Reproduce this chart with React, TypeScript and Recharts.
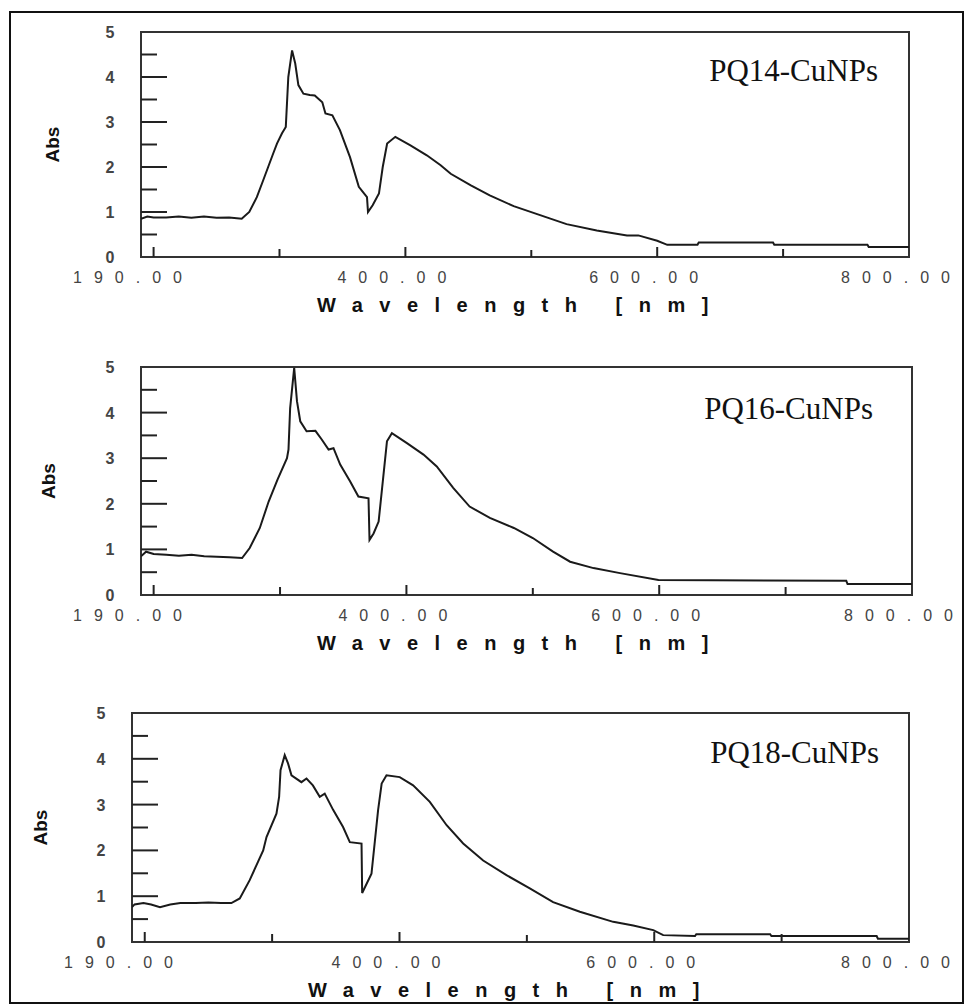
import { Line, LineChart, ReferenceArea, XAxis, YAxis } from 'recharts';

// PQ14-CuNPs spectrum
const pq14Wavelength = [
  190, 195, 200, 210, 220, 230, 240, 250, 260, 270, 276, 282, 287, 291, 295, 298, 302, 305, 307, 310,
  312.5, 315, 319, 324, 328, 334, 336.5, 342, 348, 356, 363, 369.5, 370.3, 374, 379, 382, 385.5, 392, 404, 417,
  428, 436, 452, 467, 486, 507, 528, 552, 576, 585, 600, 608, 632, 633, 692, 693, 767, 768, 800,
];
const pq14Abs = [
  0.85, 0.9, 0.88, 0.88, 0.9, 0.87, 0.9, 0.87, 0.88, 0.85, 1.0, 1.33, 1.7, 2.0, 2.3, 2.52, 2.75, 2.89, 4.0, 4.59,
  4.3, 3.82, 3.63, 3.6, 3.59, 3.44, 3.19, 3.15, 2.82, 2.22, 1.56, 1.33, 1.0, 1.15, 1.41, 2.0, 2.52, 2.67, 2.48, 2.26,
  2.04, 1.85, 1.59, 1.37, 1.13, 0.93, 0.73, 0.59, 0.48, 0.48, 0.36, 0.27, 0.27, 0.32, 0.32, 0.27, 0.27, 0.22, 0.22,
];

// PQ16-CuNPs spectrum
const pq16Wavelength = [
  190, 194, 200, 210, 220, 230, 240, 250, 260, 270, 276, 284, 291, 298, 305.5, 306.7, 308, 311.2, 313.4, 316,
  321, 328, 333, 338.4, 342.3, 347.6, 355.5, 362, 370, 370.8, 374, 378, 384.6, 388.5, 400.4, 413.5, 424, 437, 450, 466,
  485, 500, 516, 529.5, 548, 569, 599.4, 748, 749, 800,
];
const pq16Abs = [
  0.85, 0.95, 0.9, 0.88, 0.86, 0.88, 0.85, 0.84, 0.83, 0.81, 1.03, 1.47, 2.05, 2.53, 3.0, 3.19, 4.1, 4.98, 4.25, 3.81,
  3.59, 3.6, 3.41, 3.19, 3.22, 2.86, 2.49, 2.16, 2.12, 1.21, 1.35, 1.61, 3.37, 3.55, 3.33, 3.08, 2.82, 2.35, 1.94, 1.69,
  1.47, 1.25, 0.95, 0.73, 0.59, 0.48, 0.33, 0.31, 0.24, 0.24,
];

// PQ18-CuNPs spectrum
const pq18Wavelength = [
  190, 192, 199, 205, 212, 220, 228, 240, 250, 260, 268, 274.6, 282.4, 293, 295.6, 303.4, 305.5, 306.6, 309.9, 312.5,
  315.2, 323, 327, 332, 337.4, 341.3, 348, 355.7, 361, 370.2, 370.7, 378, 383.2, 386, 389.8, 400.2, 410.7, 423.8, 437, 450,
  465.7, 484, 502.3, 520.6, 541.6, 567.8, 583.5, 599.2, 607, 632, 633, 691, 692, 774.6, 775.6, 800,
];
const pq18Abs = [
  0.76, 0.82, 0.85, 0.82, 0.76, 0.82, 0.85, 0.85, 0.86, 0.85, 0.85, 0.95, 1.35, 2.0, 2.29, 2.8, 3.17, 3.75, 4.08, 3.9,
  3.64, 3.49, 3.57, 3.42, 3.17, 3.24, 2.88, 2.51, 2.18, 2.15, 1.07, 1.49, 2.88, 3.46, 3.64, 3.6, 3.42, 3.06, 2.55, 2.15,
  1.78, 1.46, 1.17, 0.87, 0.66, 0.44, 0.36, 0.26, 0.15, 0.13, 0.17, 0.17, 0.13, 0.13, 0.07, 0.07,
];

const xTicks = [190, 200, 300, 400, 500, 600, 700, 800];
const xLabelTicks = [190, 400, 600, 800];
const yTicks = [0, 0.5, 1, 1.5, 2, 2.5, 3, 3.5, 4, 4.5, 5];

const xMarkLength: Record<number, number> = { 200: 10, 300: 8, 400: 10, 500: 7, 600: 10, 700: 8 };

const toRows = (w: number[], a: number[]) => w.map((x, i) => ({ w: x, a: a[i] }));

const panels = [
  { name: 'PQ14-CuNPs', rows: toRows(pq14Wavelength, pq14Abs), top: 32, bottom: 257, left: 141, right: 909, noteX: 878, noteY: 49, absDx: 89 },
  { name: 'PQ16-CuNPs', rows: toRows(pq16Wavelength, pq16Abs), top: 367, bottom: 595, left: 141, right: 912, noteX: 873, noteY: 52, absDx: 93 },
  { name: 'PQ18-CuNPs', rows: toRows(pq18Wavelength, pq18Abs), top: 713, bottom: 942, left: 132, right: 909, noteX: 879, noteY: 50, absDx: 92 },
];

const PAGE_W = 967;
const TOP_PAD = 25;
const BOTTOM_PAD = 62;
const Y_AXIS_W = 60;
const X_AXIS_H = 30;
const SANS = "Arial, 'Liberation Sans', sans-serif";

function XTick({ x, y, payload }: any) {
  const v = payload.value as number;
  const mark = xMarkLength[v];
  return (
    <g>
      {mark ? <line x1={x} x2={x} y1={y} y2={y - mark} stroke="#222" strokeWidth={2} /> : null}
      {xLabelTicks.includes(v) ? (
        <text x={x - 68} y={y + 26} fill="#444" fontSize={16} fontFamily={SANS} style={{ letterSpacing: '12px' }}>
          {v.toFixed(2)}
        </text>
      ) : null}
    </g>
  );
}

function YTick({ x, y, payload }: any) {
  const v = payload.value as number;
  const isInt = Number.isInteger(v);
  const len = isInt ? 26 : 16;
  return (
    <g>
      {v > 0 && v < 5 ? <line x1={x} x2={x + len} y1={y} y2={y} stroke="#222" strokeWidth={2} /> : null}
      {isInt ? (
        <text x={x - 31} y={y + 6} textAnchor="middle" fill="#444" fontSize={16} fontWeight="bold" fontFamily={SANS}>
          {v}
        </text>
      ) : null}
    </g>
  );
}

function Panel({ panel }: { panel: (typeof panels)[number] }) {
  const plotH = panel.bottom - panel.top;
  const height = TOP_PAD + plotH + BOTTOM_PAD;
  const absX = panel.left - panel.absDx;
  const absY = TOP_PAD + plotH / 2;
  return (
    <div style={{ position: 'absolute', left: 0, top: panel.top - TOP_PAD }}>
      <LineChart
        width={PAGE_W}
        height={height}
        data={panel.rows}
        margin={{
          top: TOP_PAD,
          right: PAGE_W - panel.right,
          bottom: BOTTOM_PAD - X_AXIS_H,
          left: panel.left - Y_AXIS_W,
        }}
      >
        <XAxis
          dataKey="w"
          type="number"
          domain={[190, 800]}
          ticks={xTicks}
          interval={0}
          height={X_AXIS_H}
          tickSize={0}
          tickMargin={0}
          tickLine={false}
          axisLine={false}
          tick={<XTick />}
          allowDataOverflow
        />
        <YAxis
          type="number"
          domain={[0, 5]}
          ticks={yTicks}
          interval={0}
          width={Y_AXIS_W}
          tickSize={0}
          tickMargin={0}
          tickLine={false}
          axisLine={false}
          tick={<YTick />}
          allowDataOverflow
        />
        <ReferenceArea
          x1={190}
          x2={800}
          y1={0}
          y2={5}
          fill="none"
          stroke="#333"
          strokeWidth={2}
          ifOverflow="visible"
        />
        <Line
          dataKey="a"
          type="linear"
          stroke="#1a1a1a"
          strokeWidth={2}
          dot={false}
          isAnimationActive={false}
        />
        <text
          x={absX}
          y={absY}
          transform={`rotate(-90, ${absX}, ${absY})`}
          textAnchor="middle"
          dominantBaseline="central"
          fill="#111"
          fontSize={19}
          fontWeight="bold"
          fontFamily={SANS}
        >
          Abs
        </text>
        <text
          x={panel.left + 176}
          y={TOP_PAD + plotH + 55}
          fill="#111"
          fontSize={20}
          fontWeight="bold"
          fontFamily={SANS}
          style={{ letterSpacing: '16.5px' }}
        >
          Wavelength [nm]
        </text>
        <text
          x={panel.noteX}
          y={TOP_PAD + panel.noteY}
          textAnchor="end"
          fill="#111"
          fontSize={31}
          fontFamily="'Times New Roman', 'Liberation Serif', serif"
        >
          {panel.name}
        </text>
      </LineChart>
    </div>
  );
}

export default function App() {
  return (
    <div style={{ position: 'absolute', left: 0, top: 0, width: PAGE_W, height: 1006, background: '#fff' }}>
      <div
        style={{
          position: 'absolute',
          left: 9,
          top: 11,
          width: 955,
          height: 993,
          border: '2px solid #111',
          boxSizing: 'border-box',
        }}
      />
      {panels.map((p) => (
        <Panel key={p.name} panel={p} />
      ))}
    </div>
  );
}
